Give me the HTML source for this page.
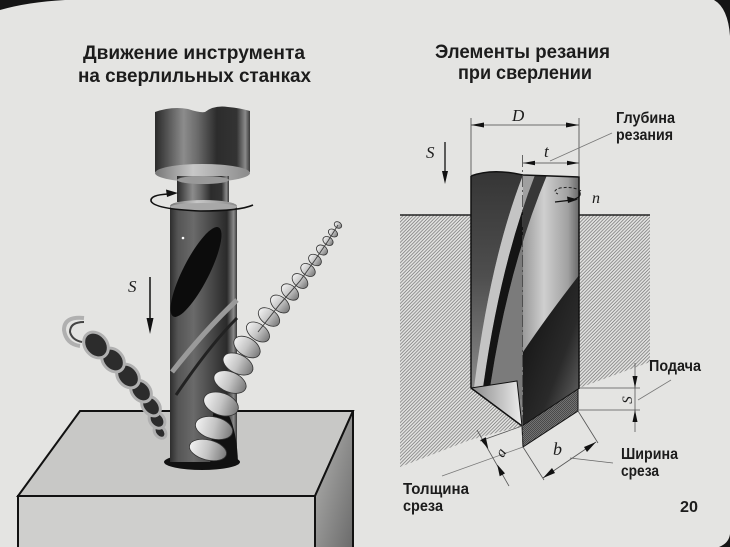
<!DOCTYPE html>
<html><head><meta charset="utf-8">
<style>
html,body{margin:0;padding:0;background:#e4e4e2;}
svg{display:block}
.t{font-family:"Liberation Sans Narrow","Liberation Sans","DejaVu Sans",sans-serif;font-weight:bold;fill:#1c1c1c}
.i{font-family:"Liberation Serif","DejaVu Serif",serif;font-style:italic;fill:#1c1c1c}
</style></head><body>
<svg width="730" height="547" viewBox="0 0 730 547" xmlns="http://www.w3.org/2000/svg">
<defs>
 <linearGradient id="chuck" x1="0" x2="1" y1="0" y2="0">
  <stop offset="0" stop-color="#2a2a2a"/><stop offset="0.1" stop-color="#4a4a4a"/>
  <stop offset="0.3" stop-color="#8c8c8c"/><stop offset="0.45" stop-color="#6a6a6a"/>
  <stop offset="0.65" stop-color="#2c2c2c"/><stop offset="0.86" stop-color="#333"/>
  <stop offset="0.95" stop-color="#8a8a8a"/><stop offset="1" stop-color="#3a3a3a"/>
 </linearGradient>
 <linearGradient id="shank" x1="0" x2="1" y1="0" y2="0">
  <stop offset="0" stop-color="#2e2e2e"/><stop offset="0.12" stop-color="#555"/>
  <stop offset="0.35" stop-color="#6a6a6a"/><stop offset="0.6" stop-color="#4a4a4a"/>
  <stop offset="0.85" stop-color="#2a2a2a"/><stop offset="0.95" stop-color="#8a8a8a"/>
  <stop offset="1" stop-color="#3a3a3a"/>
 </linearGradient>
 <linearGradient id="rim" x1="0" x2="1" y1="0" y2="0">
  <stop offset="0" stop-color="#777"/><stop offset="0.4" stop-color="#c8c8c8"/>
  <stop offset="1" stop-color="#8a8a8a"/>
 </linearGradient>
 <linearGradient id="chip" x1="0" x2="0" y1="0" y2="1">
  <stop offset="0" stop-color="#f2f2f2"/><stop offset="0.5" stop-color="#c4c4c4"/>
  <stop offset="1" stop-color="#7a7a7a"/>
 </linearGradient>
 <linearGradient id="rface" x1="0" x2="1" y1="0" y2="1">
  <stop offset="0" stop-color="#b8b8b6"/><stop offset="1" stop-color="#6a6a6a"/>
 </linearGradient>
 <linearGradient id="dkl" x1="0" x2="0" y1="0" y2="1">
  <stop offset="0" stop-color="#343434"/><stop offset="0.5" stop-color="#4e4e4e"/>
  <stop offset="1" stop-color="#8a8a8a"/>
 </linearGradient>
 <linearGradient id="rh" x1="0" x2="1" y1="0" y2="0">
  <stop offset="0" stop-color="#9a9a9a"/><stop offset="0.35" stop-color="#cfcfcf"/>
  <stop offset="0.75" stop-color="#a0a0a0"/><stop offset="1" stop-color="#555"/>
 </linearGradient>
 <linearGradient id="dr" x1="0" x2="1" y1="0" y2="1">
  <stop offset="0" stop-color="#0e0e0e"/><stop offset="0.6" stop-color="#2a2a2a"/>
  <stop offset="1" stop-color="#777"/>
 </linearGradient>
 <linearGradient id="cone" x1="0" x2="1" y1="0" y2="0">
  <stop offset="0" stop-color="#8a8a8a"/><stop offset="1" stop-color="#ececec"/>
 </linearGradient>
 <pattern id="h" width="3.4" height="3.4" patternUnits="userSpaceOnUse">
  <path d="M-1,1 l2,-2 M0,3.4 l3.4,-3.4 M2.4,4.4 l2,-2" stroke="#6e6e6e" stroke-width="0.7"/>
 </pattern>
 <pattern id="xh" width="2" height="2" patternUnits="userSpaceOnUse">
  <rect width="2" height="2" fill="#4a4a4a"/>
  <path d="M0,2 L2,0" stroke="#9a9a9a" stroke-width="0.5"/>
 </pattern>
 <clipPath id="body">
  <path d="M471,176 Q492,168 523,175 L579,177 L579,389 L522,426 L471,388 Z"/>
 </clipPath>
</defs>

<rect width="730" height="547" fill="#e4e4e2"/>
<!-- dark frame corners -->
<path d="M0,0 L65,0 Q28,2 0,10 Z" fill="#151515"/>
<path d="M714,0 L730,0 L730,36 Q728,8 714,0 Z" fill="#151515"/>
<path d="M730,534 L730,547 L719,547 Q729,543 730,534 Z" fill="#151515"/>

<!-- titles -->
<text class="t" x="83" y="59" font-size="19" textLength="222" lengthAdjust="spacingAndGlyphs">Движение инструмента</text>
<text class="t" x="78" y="82" font-size="19" textLength="233" lengthAdjust="spacingAndGlyphs">на сверлильных станках</text>
<text class="t" x="435" y="58" font-size="19" textLength="175" lengthAdjust="spacingAndGlyphs">Элементы резания</text>
<text class="t" x="458" y="79" font-size="19" textLength="134" lengthAdjust="spacingAndGlyphs">при сверлении</text>

<!-- ===== LEFT: block ===== -->
<polygon points="80,411 353,411 315,496 18,496" fill="#c8c8c6" stroke="#111" stroke-width="2"/>
<polygon points="18,496 315,496 315,549 18,549" fill="#cfcfcd" stroke="#111" stroke-width="2"/>
<polygon points="315,496 353,411 353,549 315,549" fill="url(#rface)" stroke="#111" stroke-width="2"/>
<ellipse cx="202" cy="462" rx="38" ry="8" fill="#111"/>

<!-- chuck -->
<path d="M155,112 Q172,106 188,109 Q200,113 205,112 Q214,105 228,107 Q240,108 250,111 L250,172 L155,172 Z" fill="url(#chuck)"/>
<ellipse cx="202.5" cy="173" rx="47.5" ry="9" fill="url(#rim)"/>
<rect x="177" y="176" width="52" height="26" fill="url(#chuck)"/>
<ellipse cx="203" cy="180" rx="26" ry="4" fill="#999"/>
<ellipse cx="203.5" cy="206" rx="33.5" ry="6" fill="url(#rim)"/>
<!-- shank -->
<rect x="170" y="207" width="67" height="255" fill="url(#shank)"/>
<ellipse cx="203.5" cy="207" rx="33.5" ry="4" fill="#a8a8a8"/>
<ellipse cx="196" cy="272" rx="13" ry="50" transform="rotate(27 196 272)" fill="#0c0c0c"/>
<circle cx="183" cy="238" r="1.3" fill="#fff"/>
<path d="M237,300 Q205,330 172,372" stroke="#9a9a9a" stroke-width="5" fill="none"/>
<path d="M237,318 Q210,345 176,395" stroke="#222" stroke-width="3" fill="none"/>
<path d="M214,400 Q236,410 238,462 L210,466 Z" fill="#111"/>
<!-- rotation arrow -->
<path d="M168,194 Q150,195 151,201 Q154,209 200,211 Q240,211 253,205" stroke="#111" stroke-width="1.6" fill="none"/>
<polygon points="178,193 166,189.5 167,197" fill="#111"/>
<!-- S arrow -->
<text class="i" x="128" y="292" font-size="17">S</text>
<line x1="150" y1="277" x2="150" y2="322" stroke="#111" stroke-width="1.5"/>
<polygon points="150,334 146.5,318 153.5,318" fill="#111"/>

<!-- left chip -->
<g stroke="#b0b0b0" stroke-width="3" fill="#2c2c2c">
 <ellipse cx="160" cy="432" rx="5" ry="7" transform="rotate(-40 160 432)"/>
 <ellipse cx="157" cy="420" rx="7" ry="9" transform="rotate(-40 157 420)"/>
 <ellipse cx="151" cy="406" rx="8" ry="11" transform="rotate(-40 151 406)"/>
 <ellipse cx="141" cy="391" rx="9" ry="12" transform="rotate(-40 141 391)"/>
 <ellipse cx="128" cy="376" rx="10" ry="13" transform="rotate(-40 128 376)"/>
 <ellipse cx="113" cy="360" rx="10" ry="13" transform="rotate(-40 113 360)"/>
 <ellipse cx="96" cy="345" rx="11" ry="14" transform="rotate(-40 96 345)"/>
</g>
<path d="M84,318 Q64,316 64,330 Q66,344 80,346" stroke="#b0b0b0" stroke-width="4" fill="none"/>
<path d="M84,322 Q70,322 70,332 Q72,340 82,342" stroke="#444" stroke-width="2" fill="none"/>

<!-- right chip -->
<g fill="url(#chip)" stroke="#333" stroke-width="0.8">
 <ellipse rx="3" ry="4" transform="translate(338,225) rotate(-57)"/>
 <ellipse rx="3.5" ry="5" transform="translate(333,233) rotate(-57)"/>
 <ellipse rx="4" ry="5.5" transform="translate(328,241) rotate(-57)"/>
 <ellipse rx="4.5" ry="6" transform="translate(322,250) rotate(-54)"/>
 <ellipse rx="5" ry="7" transform="translate(315,260) rotate(-54)"/>
 <ellipse rx="5.5" ry="8" transform="translate(308,270) rotate(-54)"/>
 <ellipse rx="6" ry="9" transform="translate(300,281) rotate(-49)"/>
 <ellipse rx="6.5" ry="10" transform="translate(290,292) rotate(-49)"/>
 <ellipse rx="7" ry="11" transform="translate(280,304) rotate(-49)"/>
 <ellipse rx="7.5" ry="12" transform="translate(269,317) rotate(-54)"/>
 <ellipse rx="8" ry="13" transform="translate(258,332) rotate(-54)"/>
 <ellipse rx="9" ry="14.5" transform="translate(247,347) rotate(-58)"/>
 <ellipse rx="9.5" ry="16" transform="translate(238,364) rotate(-64)"/>
 <ellipse rx="10" ry="17" transform="translate(230,382) rotate(-67)"/>
 <ellipse rx="11" ry="18" transform="translate(221,404) rotate(-70)"/>
 <ellipse rx="11" ry="19" transform="translate(214,428) rotate(-76)"/>
 <ellipse rx="10" ry="19" transform="translate(208,450) rotate(-76)"/>
</g>
<polyline points="338,225 328,241 315,260 300,281 280,304 258,332" stroke="#444" stroke-width="1" fill="none"/>

<!-- ===== RIGHT diagram ===== -->
<polygon points="400,215 471,215 471,388 522,426 470,440 400,467" fill="url(#h)"/>
<polygon points="579,215 650,215 650,362 579,388" fill="url(#h)"/>
<path d="M400,215 L471,215 M579,215 L650,215" stroke="#222" stroke-width="1.5"/>

<g clip-path="url(#body)">
 <rect x="465" y="165" width="120" height="270" fill="#858585"/>
 <rect x="523" y="165" width="60" height="270" fill="url(#rh)"/>
 <path d="M465,165 L523,165 L523,175 Q490,260 474,388 L465,388 Z" fill="url(#dkl)"/>
 <path d="M523,175 Q490,260 474,388 L483,388 Q500,265 535,175 Z" fill="#c4c4c4"/>
 <path d="M535,175 Q500,265 483,388 L490,388 Q508,268 547,175 Z" fill="#141414"/>
 <path d="M490,388 Q508,268 547,175 L523,175 L523,400 Z" fill="#6c6c6c" opacity="0.4"/>
 <path d="M580,274 Q548,315 523,352 L523,432 L582,432 Z" fill="url(#dr)"/>
 <polygon points="471,388 517,381 522,426" fill="url(#cone)" stroke="#111" stroke-width="1"/>
</g>
<polygon points="522,426 578,389 578,411 523,447" fill="url(#xh)" stroke="#111" stroke-width="1"/>
<path d="M471,176 Q492,168 523,175 L579,177 L579,389 M471,176 L471,388 L522,426" stroke="#111" stroke-width="1.5" fill="none"/>
<line x1="522.5" y1="155" x2="522.5" y2="440" stroke="#444" stroke-width="0.8" stroke-dasharray="12,3,2,3"/>

<!-- D dimension -->
<g stroke="#444" stroke-width="0.8">
 <line x1="471" y1="118" x2="471" y2="176"/>
 <line x1="579" y1="118" x2="579" y2="177"/>
 <line x1="471" y1="125" x2="579" y2="125"/>
 <line x1="523" y1="163" x2="579" y2="163"/>
 <line x1="550" y1="161" x2="612" y2="133" stroke="#777"/>
</g>
<polygon points="471,125 484,122.5 484,127.5" fill="#111"/>
<polygon points="579,125 566,122.5 566,127.5" fill="#111"/>
<polygon points="523,163 535,160.8 535,165.2" fill="#111"/>
<polygon points="579,163 567,160.8 567,165.2" fill="#111"/>
<text class="i" x="512" y="121" font-size="17">D</text>
<text class="i" x="544" y="157" font-size="17">t</text>
<!-- S left -->
<text class="i" x="426" y="158" font-size="17">S</text>
<line x1="445" y1="142" x2="445" y2="173" stroke="#111" stroke-width="1.3"/>
<polygon points="445,184 442,171 448,171" fill="#111"/>
<!-- n -->
<path d="M581,191 Q573,186 560,188 Q551,191 558,194" stroke="#222" stroke-width="1" fill="none" stroke-dasharray="3,2"/>
<path d="M555,202 L572,200 Q583,197 579,191" stroke="#111" stroke-width="1.3" fill="none"/>
<polygon points="578,199.5 567,196.5 568,203" fill="#111"/>
<text class="i" x="592" y="203" font-size="16">n</text>

<!-- S feed dimension -->
<g stroke="#555" stroke-width="0.8">
 <line x1="579" y1="388" x2="640" y2="388"/>
 <line x1="579" y1="410" x2="640" y2="410"/>
 <line x1="635" y1="363" x2="635" y2="432"/>
 <line x1="638" y1="400" x2="671" y2="380" stroke="#777"/>
</g>
<polygon points="635,388 632.5,376 637.5,376" fill="#111"/>
<polygon points="635,410 632.5,422 637.5,422" fill="#111"/>
<text class="i" font-size="15" text-anchor="middle" transform="translate(632,400) rotate(-90)">S</text>

<!-- b dimension -->
<g stroke="#555" stroke-width="0.8">
 <line x1="523" y1="447" x2="544" y2="480"/>
 <line x1="578" y1="411" x2="598" y2="443"/>
 <line x1="543" y1="478" x2="596" y2="442"/>
 <line x1="570" y1="458" x2="613" y2="463" stroke="#666"/>
</g>
<polygon points="543,478 552,468 555,473" fill="#111"/>
<polygon points="596,442 587,452 584,447" fill="#111"/>
<text class="i" x="553" y="455" font-size="18">b</text>

<!-- a dimension -->
<g stroke="#555" stroke-width="0.8">
 <line x1="522" y1="426" x2="480" y2="441"/>
 <line x1="442" y1="476" x2="523" y2="447" stroke="#777"/>
 <line x1="477" y1="430" x2="509" y2="486"/>
</g>
<polygon points="488.3,448.9 480.5,440 485.8,437.2" fill="#111"/>
<polygon points="497.2,464.5 505,473.4 499.7,476.2" fill="#111"/>
<text class="i" font-size="15" text-anchor="middle" transform="translate(505,455) rotate(-60)">a</text>

<!-- labels -->
<text class="t" x="616" y="123" font-size="15.5" textLength="59" lengthAdjust="spacingAndGlyphs">Глубина</text>
<text class="t" x="616" y="140" font-size="15.5" textLength="57" lengthAdjust="spacingAndGlyphs">резания</text>
<text class="t" x="649" y="371" font-size="15.5" textLength="52" lengthAdjust="spacingAndGlyphs">Подача</text>
<text class="t" x="621" y="459" font-size="15.5" textLength="57" lengthAdjust="spacingAndGlyphs">Ширина</text>
<text class="t" x="621" y="476" font-size="15.5" textLength="38" lengthAdjust="spacingAndGlyphs">среза</text>
<text class="t" x="403" y="494" font-size="15.5" textLength="66" lengthAdjust="spacingAndGlyphs">Толщина</text>
<text class="t" x="403" y="511" font-size="15.5" textLength="40" lengthAdjust="spacingAndGlyphs">среза</text>
<text class="t" x="680" y="512" font-size="16" textLength="18" lengthAdjust="spacingAndGlyphs">20</text>
</svg>
</body></html>
